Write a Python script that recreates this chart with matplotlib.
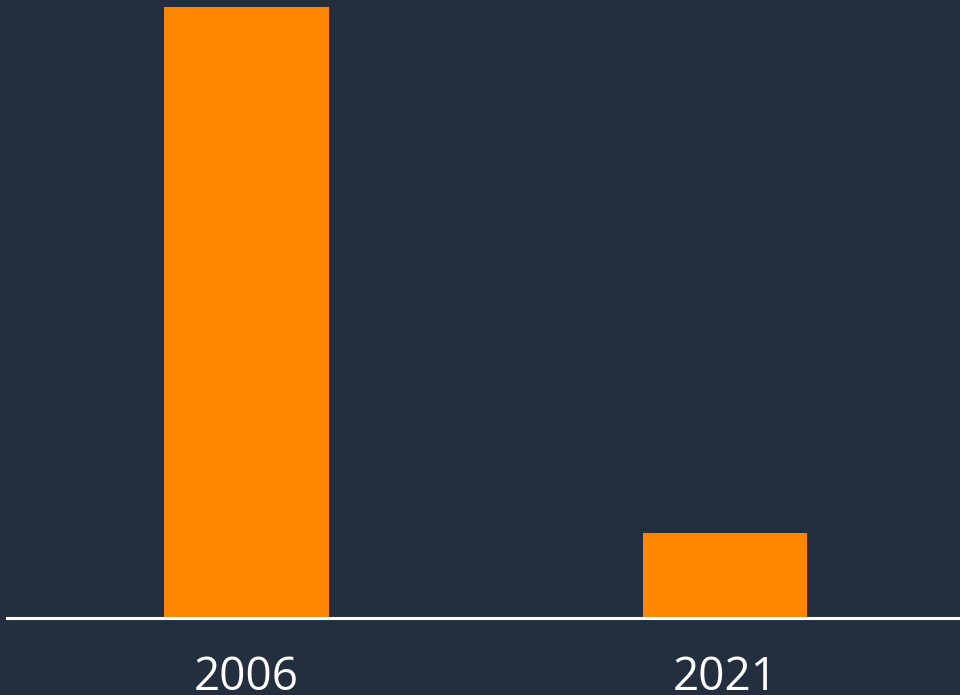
import matplotlib
matplotlib.use("Agg")
import matplotlib.pyplot as plt

years = ["2006", "2021"]
values = [100.0, 13.8]

BG = "#232F3F"
BAR = "#FF8700"

W, H = 960, 695
fig = plt.figure(figsize=(W / 100, H / 100), dpi=100, facecolor=BG)
left = 7.25 / W
width = 957 / W
bottom = 1 - 617.5 / H
top_px = 7.3
height = (617.5 - top_px) / H
ax = fig.add_axes([left, bottom, width, height])
ax.set_facecolor(BG)
x = range(len(years))
ax.bar(x, values, width=0.343, color=BAR, edgecolor="none")
ax.set_xlim(-0.5, 1.5)
ax.set_ylim(0, 100)
for s in ["left", "right", "top"]:
    ax.spines[s].set_visible(False)
ax.spines["bottom"].set_color("white")
ax.spines["bottom"].set_linewidth(2.2)
ax.set_yticks([])
ax.set_xticks(list(x))
ax.set_xticklabels(years, color="white", fontsize=33, family=["Open Sans", "DejaVu Sans"])
ax.tick_params(axis="x", length=0, pad=27)
fig.savefig("out.png", dpi=100, facecolor=BG)
